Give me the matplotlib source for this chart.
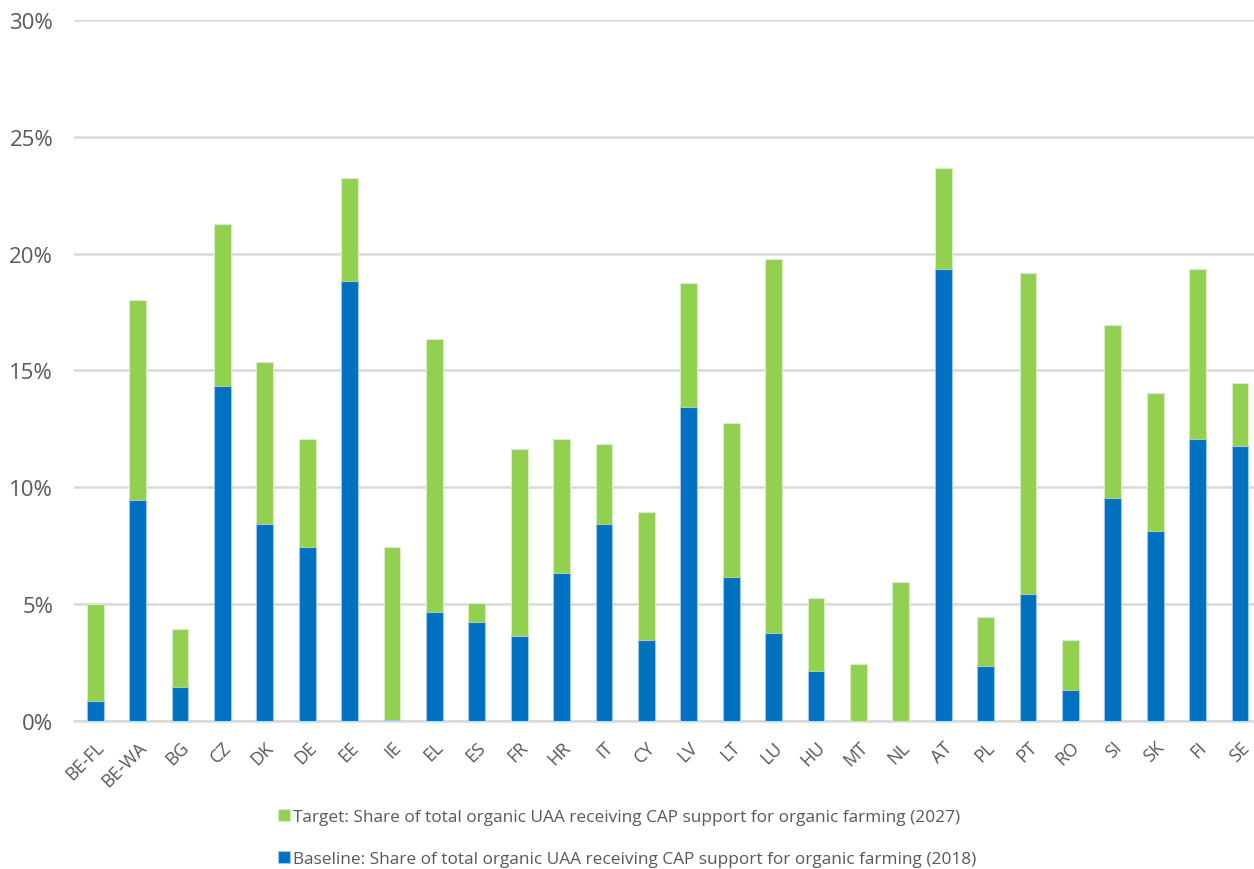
import numpy as np
import matplotlib
matplotlib.use("Agg")
import matplotlib.pyplot as plt
from matplotlib.ticker import FuncFormatter

countries = ["BE-FL", "BE-WA", "BG", "CZ", "DK", "DE", "EE", "IE", "EL", "ES",
             "FR", "HR", "IT", "CY", "LV", "LT", "LU", "HU", "MT", "NL",
             "AT", "PL", "PT", "RO", "SI", "SK", "FI", "SE"]
# target 2027 (%), total bar height
target = [5.0, 18.0, 3.95, 21.25, 15.35, 12.05, 23.25, 7.45, 16.35, 5.05,
          11.65, 12.05, 11.85, 8.95, 18.75, 12.75, 19.75, 5.25, 2.45, 5.95,
          23.65, 4.45, 19.15, 3.45, 16.95, 14.05, 19.35, 14.45]
# baseline 2018 (%)
baseline = [0.85, 9.45, 1.45, 14.35, 8.45, 7.45, 18.85, 0.05, 4.65, 4.25,
            3.65, 6.35, 8.45, 3.45, 13.45, 6.15, 3.75, 2.15, 0.0, 0.0,
            19.35, 2.35, 5.45, 1.35, 9.55, 8.15, 12.05, 11.75]

label_target = "Target: Share of total organic UAA receiving CAP support for organic farming (2027)"
label_base = "Baseline: Share of total organic UAA receiving CAP support for organic farming (2018)"

green = "#92D050"
blue = "#0070C0"
grey = "#595959"

plt.rcParams['font.family'] = ['Open Sans', 'DejaVu Sans']

fig = plt.figure(figsize=(12.54, 8.7), dpi=100)
ax = fig.add_axes([0.059, 0.170, 0.941, 0.806])

x = np.arange(len(countries))
w = 0.4
b1 = ax.bar(x, target, w, color=green, edgecolor="#d8f0c0", linewidth=0.8,
            label=label_target, zorder=3)
b2 = ax.bar(x, baseline, w, color=blue, edgecolor="#9cc8ea", linewidth=0.8,
            label=label_base, zorder=4)

ax.set_ylim(0, 30)
ax.set_xlim(-0.5, 27.33)
ax.set_yticks(np.arange(0, 31, 5))
ax.yaxis.set_major_formatter(FuncFormatter(lambda v, p: f"{v:.0f}%"))
ax.grid(axis='y', color="#D9D9D9", linewidth=1.8, zorder=0)
ax.set_axisbelow(True)
for s in ["top", "right", "left"]:
    ax.spines[s].set_visible(False)
ax.spines["bottom"].set_color("#D9D9D9")
ax.spines["bottom"].set_linewidth(1.8)
ax.tick_params(axis='both', length=0, colors=grey)
ax.tick_params(axis='y', labelsize=16, pad=15)
ax.set_xticks(x)
ax.set_xticklabels(countries, rotation=45, ha='right', rotation_mode='anchor',
                   fontsize=13, color=grey)
ax.tick_params(axis='x', pad=12)

fig.legend(handles=[b1, b2], loc='lower center', bbox_to_anchor=(0.5, -0.006),
           ncol=1, frameon=False, fontsize=12.4, labelcolor=grey,
           handlelength=0.7, handleheight=0.7, handletextpad=0.2,
           labelspacing=1.55, borderaxespad=0.0)

fig.savefig("out.png", dpi=100)
